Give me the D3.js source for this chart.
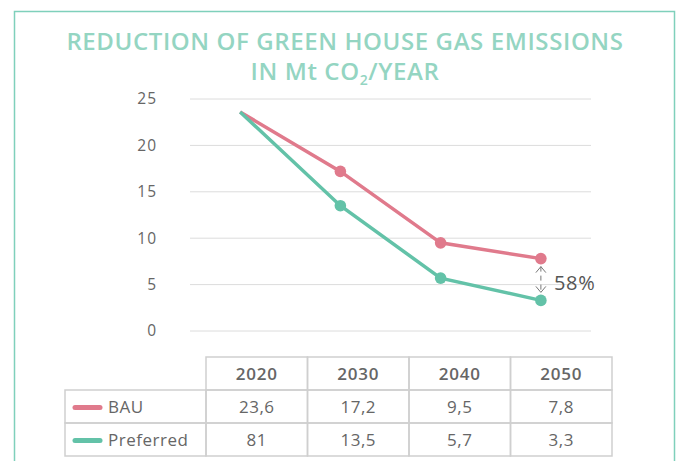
<!DOCTYPE html>
<html>
<head>
<meta charset="utf-8">
<script src="https://cdn.jsdelivr.net/npm/d3@7"></script>
<style>
    body {
        margin: 0;
        background: #fff;
        font-family: "Open Sans", "Noto Sans", sans-serif;
    }
    .grid line {
        stroke: #dcdcdc;
        stroke-width: 1;
    }
    .axis text {
        font-size: 15.5px;
        letter-spacing: 1px;
        fill: #666;
    }
</style>
</head>
<body>
<svg id="chart" width="678" height="461"></svg>
<script>
    const years = ["2020", "2030", "2040", "2050"];
    const bau = [23.6, 17.2, 9.5, 7.8];
    const preferred = [23.6, 13.5, 5.7, 3.3];
    // values as printed in the table under the chart
    const bauLabels = ["23,6", "17,2", "9,5", "7,8"];
    const preferredLabels = ["81", "13,5", "5,7", "3,3"];
    const yTicks = [0, 5, 10, 15, 20, 25];

    const pink = "#e07a8c";
    const teal = "#63c2a8";

    const svg = d3.select("#chart");

    // outer frame
    svg.append("rect")
        .attr("x", 14.5)
        .attr("y", 11.5)
        .attr("width", 660)
        .attr("height", 470)
        .attr("fill", "none")
        .attr("stroke", "#7fd0bb")
        .attr("stroke-width", 1.5);

    // title
    const title = svg.append("text")
        .attr("text-anchor", "middle")
        .attr("fill", "#94d5c2")
        .attr("font-size", 24)
        .attr("font-weight", 600)
        .attr("letter-spacing", 0.6);
    title.append("tspan")
        .attr("x", 345)
        .attr("y", 50)
        .text("REDUCTION OF GREEN HOUSE GAS EMISSIONS");
    const t2 = title.append("tspan").attr("x", 345).attr("y", 80);
    t2.text("IN Mt CO");
    title.append("tspan").attr("font-size", 14).attr("dy", 5).text("2");
    title.append("tspan").attr("dy", -5).text("/YEAR");

    const x = d3.scalePoint().domain(years).range([190, 591]).padding(0.5);
    const y = d3.scaleLinear().domain([0, 25]).range([331, 99]);

    // gridlines
    svg.append("g")
        .attr("class", "grid")
        .selectAll("line")
        .data(yTicks)
        .join("line")
        .attr("x1", 190)
        .attr("x2", 591)
        .attr("y1", (d) => y(d))
        .attr("y2", (d) => y(d));

    svg.append("g")
        .attr("class", "axis")
        .attr("transform", "translate(157,0)")
        .call(d3.axisLeft(y).tickValues(yTicks).tickSize(0).tickPadding(0))
        .call((g) => g.select(".domain").remove())
        .selectAll("text")
        .attr("font-family", "Open Sans, sans-serif");

    const series = [
        { name: "BAU", values: bau, color: pink },
        { name: "Preferred", values: preferred, color: teal },
    ];

    const line = d3.line()
        .x((d, i) => x(years[i]))
        .y((d) => y(d));

    series.forEach((s) => {
        svg.append("path")
            .datum(s.values)
            .attr("fill", "none")
            .attr("stroke", s.color)
            .attr("stroke-width", 3.5)
            .attr("d", line);
        svg.append("g")
            .selectAll("circle")
            .data(s.values.slice(1))
            .join("circle")
            .attr("cx", (d, i) => x(years[i + 1]))
            .attr("cy", (d) => y(d))
            .attr("r", 5.8)
            .attr("fill", s.color);
    });

    // difference marker at 2050
    const ax = x("2050");
    const yTop = y(bau[3]) + 8;
    const yBot = y(preferred[3]) - 8;
    svg.append("line")
        .attr("x1", ax).attr("x2", ax)
        .attr("y1", yTop).attr("y2", yBot)
        .attr("stroke", "#777")
        .attr("stroke-width", 1)
        .attr("stroke-dasharray", "5,4");
    svg.append("path")
        .attr("d", `M${ax - 5},${yTop + 6}L${ax},${yTop}L${ax + 5},${yTop + 6}`
            + `M${ax - 5},${yBot - 6}L${ax},${yBot}L${ax + 5},${yBot - 6}`)
        .attr("fill", "none")
        .attr("stroke", "#777")
        .attr("stroke-width", 1);
    const pct = Math.round((1 - preferred[3] / bau[3]) * 100);
    svg.append("text")
        .attr("x", ax + 13)
        .attr("y", 290)
        .attr("font-size", 20)
        .attr("font-weight", 500)
        .attr("letter-spacing", 0.8)
        .attr("fill", "#555")
        .text(pct + "%");

    // table
    const colX = d3.scaleBand().domain(years).range([206, 612]);
    const rowY = [357, 390, 423, 456];
    const gridColor = "#cfcfcf";
    const tbl = svg.append("g")
        .attr("font-size", 17)
        .attr("fill", "#666");

    // header cells
    tbl.append("g")
        .selectAll("rect")
        .data(years)
        .join("rect")
        .attr("x", (d) => colX(d))
        .attr("y", rowY[0])
        .attr("width", colX.bandwidth())
        .attr("height", rowY[1] - rowY[0])
        .attr("fill", "none")
        .attr("stroke", gridColor)
        .attr("stroke-width", 1.5);
    tbl.append("g")
        .selectAll("text")
        .data(years)
        .join("text")
        .attr("x", (d) => colX(d) + colX.bandwidth() / 2)
        .attr("y", rowY[0] + 23)
        .attr("text-anchor", "middle")
        .attr("font-weight", 600)
        .attr("letter-spacing", 0.8)
        .text((d) => d);

    const rows = [
        { name: "BAU", color: pink, labels: bauLabels },
        { name: "Preferred", color: teal, labels: preferredLabels },
    ];
    rows.forEach((r, ri) => {
        const top = rowY[ri + 1];
        const h = rowY[ri + 2] - top;
        tbl.append("rect")
            .attr("x", 65)
            .attr("y", top)
            .attr("width", 206 - 65)
            .attr("height", h)
            .attr("fill", "none")
            .attr("stroke", gridColor)
            .attr("stroke-width", 1.5);
        tbl.append("line")
            .attr("x1", 75).attr("x2", 100)
            .attr("y1", top + h / 2 + 1).attr("y2", top + h / 2 + 1)
            .attr("stroke", r.color)
            .attr("stroke-width", 5)
            .attr("stroke-linecap", "round");
        tbl.append("text")
            .attr("x", 108)
            .attr("y", top + 23)
            .attr("letter-spacing", 0.5)
            .text(r.name);
        tbl.append("g")
            .selectAll("rect")
            .data(years)
            .join("rect")
            .attr("x", (d) => colX(d))
            .attr("y", top)
            .attr("width", colX.bandwidth())
            .attr("height", h)
            .attr("fill", "none")
            .attr("stroke", gridColor)
            .attr("stroke-width", 1.5);
        tbl.append("g")
            .selectAll("text")
            .data(r.labels)
            .join("text")
            .attr("x", (d, i) => colX(years[i]) + colX.bandwidth() / 2)
            .attr("y", top + 23)
            .attr("text-anchor", "middle")
            .attr("letter-spacing", 0.5)
            .text((d) => d);
    });
</script>
</body>
</html>
